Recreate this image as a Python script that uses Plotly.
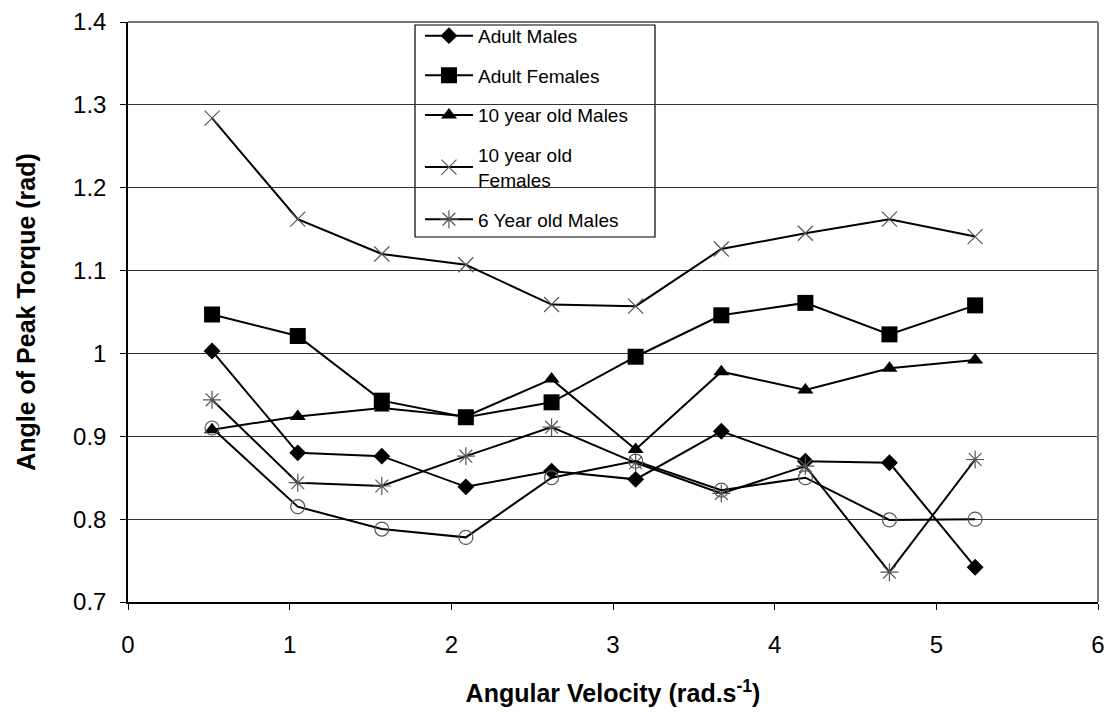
import plotly.graph_objects as go

velocity = [0.52, 1.05, 1.57, 2.09, 2.62, 3.14, 3.67, 4.19, 4.71, 5.24]

adult_males = [1.003, 0.880, 0.876, 0.839, 0.858, 0.848, 0.906, 0.870, 0.868, 0.742]
adult_females = [1.047, 1.021, 0.943, 0.923, 0.941, 0.996, 1.046, 1.061, 1.023, 1.058]
ten_males = [0.908, 0.924, 0.934, 0.924, 0.969, 0.884, 0.978, 0.956, 0.982, 0.992]
ten_females = [1.284, 1.162, 1.120, 1.107, 1.059, 1.057, 1.126, 1.145, 1.162, 1.141]
six_males = [0.944, 0.844, 0.840, 0.876, 0.911, 0.868, 0.831, 0.864, 0.736, 0.872]
six_females = [0.910, 0.815, 0.788, 0.778, 0.850, 0.870, 0.835, 0.850, 0.799, 0.800]

series_names = ["Adult Males", "Adult Females", "10 year old Males",
                "10 year old<br>Females", "6 Year old Males", "6 Year old Females"]

y_tickvals = [0.7, 0.8, 0.9, 1.0, 1.1, 1.2, 1.3, 1.4]
y_ticktext = ["0.7", "0.8", "0.9", "1", "1.1", "1.2", "1.3", "1.4"]
x_tickvals = [0, 1, 2, 3, 4, 5, 6]

FONT = "Liberation Sans, Arial, sans-serif"

styles = [
    dict(symbol="diamond", size=13, color="black", line=dict(width=0)),
    dict(symbol="square", size=16, color="black", line=dict(width=0)),
    dict(symbol="triangle-up", size=14, color="black", line=dict(width=0)),
    dict(symbol="x-thin-open", size=15, color="#555555", line=dict(width=1.2, color="#555555")),
    dict(symbol="asterisk-open", size=15, color="#555555", line=dict(width=1.2, color="#555555")),
    dict(symbol="circle-open", size=14, color="#555555", line=dict(width=1.2, color="#555555")),
]
data = [adult_males, adult_females, ten_males, ten_females, six_males, six_females]

fig = go.Figure()
for i, (name, vals, mk) in enumerate(zip(series_names, data, styles)):
    fig.add_trace(go.Scatter(
        x=velocity, y=vals, name=name, mode="lines+markers",
        line=dict(color="black", width=2),
        marker=mk,
        legendgroup=f"g{i}",
        showlegend=(i < 5),
    ))

fig.update_layout(
    width=1111, height=713,
    margin=dict(l=128, r=13, t=22, b=111, autoexpand=False),
    paper_bgcolor="white", plot_bgcolor="white",
    font=dict(family=FONT, color="black"),
    showlegend=True,
    legend=dict(
        x=0.301, y=1.009, xanchor="left", yanchor="top",
        bgcolor="rgba(0,0,0,0)", borderwidth=0,
        font=dict(size=19, family=FONT),
        tracegroupgap=12,
        itemwidth=48,
    ),
    xaxis=dict(
        range=[0, 6], tickvals=x_tickvals,
        showgrid=False, zeroline=False, automargin=False,
        showline=True, linecolor="black", linewidth=1.5,
        ticks="outside", ticklen=6, tickcolor="black",
        tickfont=dict(size=24), ticklabelstandoff=14, ticklabeloverflow="allow",
        title=dict(text="<b>Angular Velocity (rad.s<sup>-1</sup>)</b>", font=dict(size=25), standoff=28),
    ),
    yaxis=dict(
        range=[0.7, 1.4], tickvals=y_tickvals, ticktext=y_ticktext,
        showgrid=True, gridcolor="#333333", gridwidth=1.2,
        zeroline=False, automargin=False,
        showline=True, linecolor="black", linewidth=1.5,
        ticks="outside", ticklen=6, tickcolor="black",
        tickfont=dict(size=24), ticklabelstandoff=9,
        title=dict(text="<b>Angle of Peak Torque (rad)</b>", font=dict(size=25), standoff=30),
    ),
    shapes=[
        dict(type="rect", xref="paper", yref="paper", x0=0.2959, x1=0.5433, y0=0.6293, y1=0.9948,
             fillcolor="white", line=dict(color="black", width=1.2), layer="below"),
        dict(type="line", xref="paper", yref="paper", x0=1, x1=1, y0=0, y1=1,
             line=dict(color="#777777", width=2)),
        dict(type="line", xref="paper", yref="paper", x0=0, x1=1, y0=1, y1=1,
             line=dict(color="#777777", width=2)),
    ],
)

fig.write_html("out.html", config={"displayModeBar": False},
               post_script="document.body.style.margin='0';")
